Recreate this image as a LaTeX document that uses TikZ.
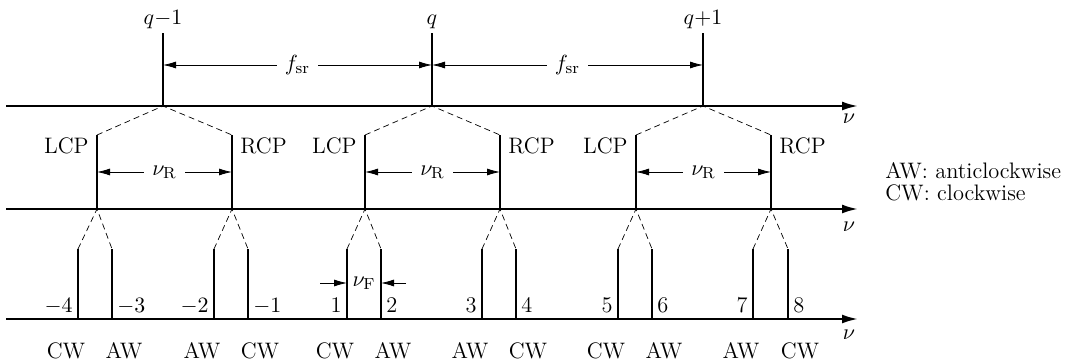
\documentclass[tikz,border=0pt]{standalone}
\usetikzlibrary{arrows.meta,positioning}
\tikzset{
 axis/.style={line width=1.1pt, -{Latex[length=8pt,width=4.5pt]}},
 peak/.style={line width=1pt},
 mode/.style={line width=0.8pt},
 split/.style={line width=0.35pt, dash pattern=on 3pt off 2pt},
 dim/.style={{Latex[length=6.5pt,width=3.5pt]}-{Latex[length=6.5pt,width=3.5pt]}, line width=0.4pt},
 tip/.style={-{Latex[length=6.5pt,width=3.5pt]}, line width=0.4pt},
 lbl/.style={inner sep=1pt, font=\fontsize{11.2}{13}\selectfont}
}
\begin{document}
\begin{tikzpicture}[x=0.5pt,y=-0.5pt]
\useasboundingbox (0,0) rectangle (1071,363);
\foreach \r/\y/\ly in {1/106/119, 2/209/227, 3/319/335} {
 \coordinate (ax\r w) at (6,\y);
 \coordinate (ax\r e) at (858,\y);
 \draw[axis] (ax\r w) -- (ax\r e);
 \node[lbl] (nu\r) at (849,\ly) {$\nu$};
}
\foreach \g/\x/\t in {0/163/q{-}1, 1/432/q, 2/703/q{+}1} {
 \coordinate (b\g) at (\x,106);
 \coordinate (t\g) at (\x,33);
 \coordinate (f\g) at (\x,65);
 \draw[peak] (b\g) -- (t\g);
 \node[lbl, above=1pt of t\g] (q\g) {$\t$};
}
\draw[dim] (f0) -- node[lbl, fill=white, inner xsep=4pt] (fsr1) {$f_{\mathrm{sr}}$} (f1);
\draw[dim] (f1) -- node[lbl, fill=white, inner xsep=4pt] (fsr2) {$f_{\mathrm{sr}}$} (f2);
\foreach \k/\x in {1/97, 2/232, 3/365, 4/500, 5/636, 6/771} {
 \coordinate (mt\k) at (\x,135);
 \coordinate (mr\k) at (\x,172);
 \coordinate (mb\k) at (\x,209);
 \draw[peak] (mb\k) -- (mt\k);
}
\foreach \g/\k/\kk in {0/1/2, 1/3/4, 2/5/6} {
 \draw[split] (mt\k) -- (b\g) -- (mt\kk);
 \node[lbl, anchor=north east, xshift=-3pt] (lcp\g) at (mt\k) {LCP};
 \node[lbl, anchor=north west, xshift=3pt] (rcp\g) at (mt\kk) {RCP};
 \draw[dim] (mr\k) -- node[lbl, fill=white, inner xsep=4pt] (nr\g) {$\nu_{\mathrm{R}}$} (mr\kk);
}
\foreach \k/\xa/\xb/\na/\nb/\la/\lb in {1/78/112/$-4$/$-3$/CW/AW, 2/214/248/$-2$/$-1$/AW/CW, 3/347/381/1/2/CW/AW, 4/482/516/3/4/AW/CW, 5/618/652/5/6/CW/AW, 6/753/788/7/8/AW/CW} {
 \coordinate (u\k) at (\xa,249);
 \coordinate (ub\k) at (\xa,319);
 \coordinate (v\k) at (\xb,249);
 \coordinate (vb\k) at (\xb,319);
 \draw[mode] (ub\k) -- (u\k);
 \draw[mode] (vb\k) -- (v\k);
 \draw[split] (u\k) -- (mb\k) -- (v\k);
 \node[lbl, anchor=base east, xshift=-1.5pt, yshift=3pt] (na\k) at (ub\k) {\na};
 \node[lbl, anchor=base west, xshift=1.5pt, yshift=3pt] (nb\k) at (vb\k) {\nb};
 \node[lbl, anchor=base] (pa\k) at (\xa-12,358) {\la};
 \node[lbl, anchor=base] (pb\k) at (\xb+12,358) {\lb};
}
\coordinate (fa) at (320,283);
\coordinate (fb) at (347,283);
\coordinate (fc) at (381,283);
\coordinate (fd) at (406,283);
\draw[tip] (fa) -- (fb);
\draw[tip] (fd) -- (fc);
\node[lbl] (nf) at (364,283) {$\nu_{\mathrm{F}}$};
\node[lbl, anchor=base west] (key1) at (883,179) {AW: anticlockwise};
\node[lbl, anchor=base west] (key2) at (883,201) {CW: clockwise};
\end{tikzpicture}
\end{document}
